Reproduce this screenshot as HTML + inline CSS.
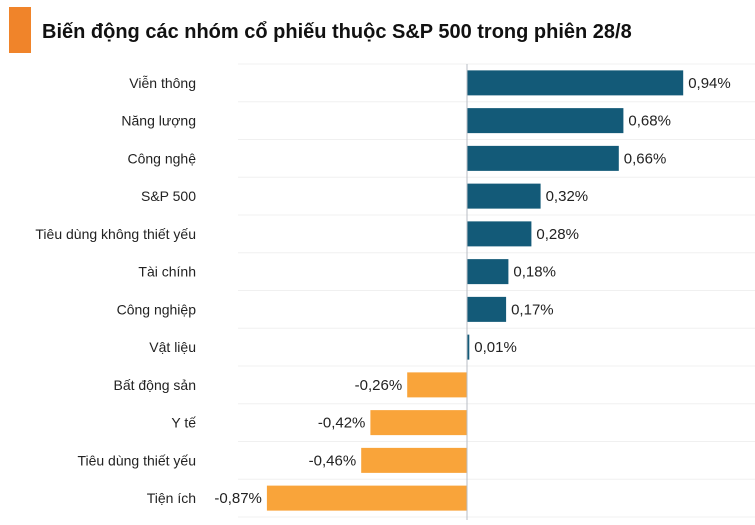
<!DOCTYPE html>
<html><head><meta charset="utf-8"><style>
body{margin:0;width:755px;height:520px;background:#fff;overflow:hidden;font-family:"Liberation Sans",sans-serif;}
</style></head><body>
<svg width="755" height="520">
<rect x="9" y="7" width="22" height="46" fill="#f0842a"/>
<text x="42" y="38" font-size="20" font-weight="bold" fill="#111">Biến động các nhóm cổ phiếu thuộc S&amp;P 500 trong phiên 28/8</text>
<g id="grid"></g><g id="bars"></g>
<line x1="467" y1="64" x2="467" y2="520" stroke="#b8bec4" stroke-width="1"/>
</svg>
<script>
const categories=["Viễn thông","Năng lượng","Công nghệ","S&P 500","Tiêu dùng không thiết yếu","Tài chính","Công nghiệp","Vật liệu","Bất động sản","Y tế","Tiêu dùng thiết yếu","Tiện ích"];
const values=[0.94,0.68,0.66,0.32,0.28,0.18,0.17,0.01,-0.26,-0.42,-0.46,-0.87];
const labels=["0,94%","0,68%","0,66%","0,32%","0,28%","0,18%","0,17%","0,01%","-0,26%","-0,42%","-0,46%","-0,87%"];
const NS="http://www.w3.org/2000/svg";
const x0=467,scale=230,yTop=64,step=37.75,bh=25;
const xs=v=>x0+v*scale;
const yc=i=>yTop+step*(i+0.5);
const grid=document.getElementById('grid'),bars=document.getElementById('bars');
for(let i=0;i<=categories.length;i++){
 const l=document.createElementNS(NS,'line');
 
 
 const y=yTop+step*i;
 l.setAttribute('x1',238);l.setAttribute('x2',755);l.setAttribute('y1',y);l.setAttribute('y2',y);
 l.setAttribute('stroke','#f0f0f0');grid.appendChild(l);
}
categories.forEach((c,i)=>{
 const v=values[i],y=yc(i);
 const r=document.createElementNS(NS,'rect');
 
 
 const a=Math.min(xs(0),xs(v)),w=Math.max(Math.abs(xs(v)-xs(0)),2);
 r.setAttribute('x',a);r.setAttribute('y',y-bh/2);r.setAttribute('width',w);r.setAttribute('height',bh);
 r.setAttribute('fill',v>=0?'#135a78':'#f9a43a');bars.appendChild(r);
 const t=document.createElementNS(NS,'text');
 
 
 t.setAttribute('y',y+5);t.setAttribute('font-size','15');t.setAttribute('fill','#222');
 if(v>=0){t.setAttribute('x',a+w+5);}else{t.setAttribute('x',a-5);t.setAttribute('text-anchor','end');}
 t.textContent=labels[i];bars.appendChild(t);
 const c1=document.createElementNS(NS,'text');
 
 
 c1.setAttribute('x',196);c1.setAttribute('y',y+5);c1.setAttribute('text-anchor','end');
 c1.setAttribute('font-size','14');c1.setAttribute('fill','#222');
 c1.textContent=c;bars.appendChild(c1);
});
</script>
</body></html>
